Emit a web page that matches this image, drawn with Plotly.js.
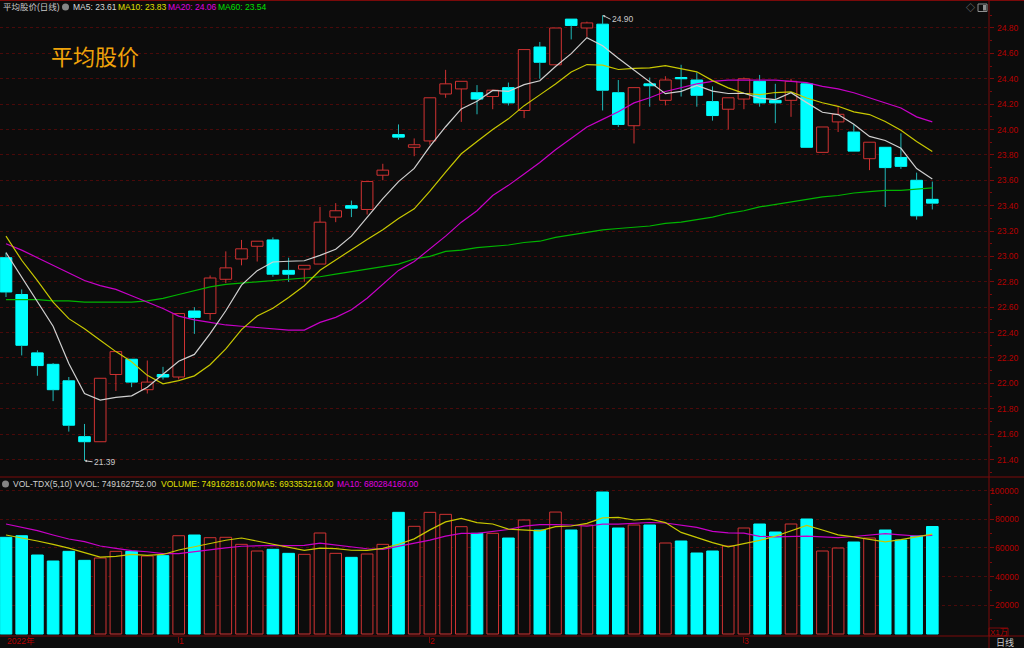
<!DOCTYPE html>
<html><head><meta charset="utf-8">
<script src="https://cdn.plot.ly/plotly-3.0.1.min.js"></script>
<style>html,body{margin:0;padding:0;background:#0c0c0c;overflow:hidden}#chart{width:1024px;height:648px}</style>
</head><body><div id="chart"></div>
<script>
// ---------- data ----------
const openP  = [22.99,22.70,22.24,22.15,22.02,21.58,21.54,22.07,22.19,21.95,
                22.07,22.05,22.57,22.55,22.82,22.98,23.08,23.13,22.89,22.90,
                22.94,23.31,23.40,23.37,23.64,23.96,23.86,23.91,24.28,24.32,
                24.29,24.26,24.33,24.15,24.65,24.51,24.87,24.80,24.83,24.29,
                24.03,24.36,24.23,24.41,24.39,24.22,24.16,24.24,24.38,24.23,
                24.23,24.36,23.82,24.06,23.98,23.77,23.86,23.78,23.60,23.45];
const highP  = [23.03,22.74,22.26,22.16,22.05,21.68,22.04,22.25,22.19,22.18,
                22.13,22.55,22.60,22.85,23.04,23.13,23.12,23.15,22.99,22.93,
                23.39,23.42,23.44,23.59,23.73,24.04,23.93,24.25,24.47,24.38,
                24.35,24.31,24.37,24.63,24.69,24.80,24.87,24.85,24.90,24.39,
                24.33,24.41,24.42,24.51,24.45,24.34,24.25,24.41,24.43,24.36,
                24.40,24.37,24.02,24.18,24.04,23.90,23.86,23.97,23.66,23.59];
const lowP   = [22.68,22.22,22.06,21.86,21.62,21.39,21.54,21.94,21.97,21.92,
                22.03,22.03,22.39,22.50,22.79,22.93,22.96,22.84,22.80,22.80,
                22.94,23.27,23.31,23.33,23.60,23.92,23.79,23.88,24.25,24.06,
                24.12,24.16,24.19,24.09,24.40,24.51,24.71,24.73,24.15,24.02,
                23.89,24.18,24.19,24.26,24.18,24.07,24.00,24.16,24.18,24.05,
                24.10,23.86,23.82,23.98,23.83,23.68,23.39,23.69,23.29,23.37];
const closeP = [22.72,22.30,22.14,21.95,21.67,21.54,22.04,22.25,22.01,22.01,
                22.05,22.55,22.52,22.83,22.91,23.06,23.12,22.86,22.86,22.93,
                23.27,23.36,23.38,23.59,23.68,23.94,23.88,24.25,24.36,24.38,
                24.24,24.31,24.21,24.63,24.53,24.80,24.82,24.84,24.31,24.04,
                24.33,24.345,24.39,24.40,24.27,24.11,24.25,24.40,24.21,24.21,
                24.38,23.86,24.02,24.12,23.83,23.90,23.70,23.71,23.32,23.42];
// volume in units of 10,000 (x1万)
const volume = [67400,68500,55060,50880,57620,51350,52970,57620,57620,54370,
                54600,68500,69000,67130,67400,62500,57850,59020,56220,55530,
                70400,56220,53430,55760,62500,84800,75050,84800,83410,74800,
                70170,70170,66900,79460,72490,85000,72490,75970,98970,73880,
                75970,75970,63430,64820,56460,57850,61340,73880,76670,71090,
                76670,80160,57850,59940,64120,66910,72490,65520,68300,74916];
// moving-average values before enough history is visible
const ma5Lead  = [23.03,22.84,22.65,22.45];
const ma10Lead = [23.16,22.97,22.81,22.64,22.51,22.43,22.34,22.25,22.17];
const ma20 = [23.10,23.05,22.99,22.93,22.87,22.81,22.77,22.74,22.69,22.64,
              22.59,22.53,22.50,22.48,22.46,22.45,22.44,22.43,22.42,22.42,
              22.48,22.52,22.58,22.67,22.78,22.89,22.96,23.06,23.16,23.27,
              23.36,23.48,23.56,23.65,23.74,23.84,23.93,24.02,24.08,24.14,
              24.21,24.25,24.30,24.33,24.36,24.38,24.39,24.39,24.39,24.39,
              24.38,24.37,24.34,24.32,24.29,24.25,24.21,24.17,24.10,24.06];
const ma60 = [22.66,22.66,22.66,22.65,22.65,22.64,22.64,22.64,22.64,22.65,
              22.67,22.70,22.73,22.76,22.78,22.79,22.80,22.81,22.82,22.83,
              22.84,22.86,22.88,22.90,22.92,22.94,22.98,23.00,23.04,23.05,
              23.07,23.08,23.09,23.11,23.12,23.15,23.17,23.19,23.21,23.22,
              23.23,23.24,23.26,23.27,23.29,23.31,23.34,23.36,23.39,23.41,
              23.43,23.45,23.47,23.48,23.50,23.51,23.52,23.52,23.53,23.54];
const volMa5Lead  = [69000,67120,64820,62520];
const volMa10Lead = [76670,74370,72000,69000,66220,64330,61340,59730,58060];
const monthTicks  = [0,11,27,47];
const monthLabels = ["2022年","1","2","3"];
const priceTicks  = [21.40,21.60,21.80,22.00,22.20,22.40,22.60,22.80,23.00,23.20,23.40,23.60,23.80,24.00,24.20,24.40,24.60,24.80];
const volTicks    = [20000,40000,60000,80000,100000];
const headerTexts = ["平均股价(日线)","MA5: 23.61","MA10: 23.83","MA20: 24.06","MA60: 23.54"];
const volHeaderTexts = ["VOL-TDX(5,10) VVOL: 749162752.00","VOLUME: 749162816.00","MA5: 693353216.00","MA10: 680284160.00"];
const highLabel = {i:38, v:24.90, text:"24.90"};
const lowLabel  = {i:5,  v:21.39, text:"21.39"};

// ---------- styling ----------
const BG='#0c0c0c', RED='#d03232', CYAN='#00ffff', CYANW='#20b8b8';
const AXR='#7a0a0a', GRID='#4a0a0a', LBL='#b40000';
const C_MA5='#d0d0d0', C_MA10='#c8c800', C_MA20='#c800c8', C_MA60='#00b400';
const FONT="Liberation Sans, Arial, Noto Sans CJK SC, sans-serif";
const PW=989, H=648;
const px=x=>x/PW, py=y=>1-y/H;

const idx = closeP.map((_,i)=>i);
const isUp = closeP.map((c,i)=>c>=openP[i]);
function sma(arr,n,lead){return arr.map((v,i)=>{if(i<n-1)return lead[i];let s=0;for(let k=i-n+1;k<=i;k++)s+=arr[k];return s/n;});}
const ma5=sma(closeP,5,ma5Lead), ma10=sma(closeP,10,ma10Lead);
const vma5=sma(volume,5,volMa5Lead), vma10=sma(volume,10,volMa10Lead);

const upX=idx.filter(i=>isUp[i]), dnX=idx.filter(i=>!isUp[i]);
const bodyLo=i=>Math.min(openP[i],closeP[i]);
const bodyHi=i=>Math.max(openP[i],closeP[i]);
const bodyLen=i=>Math.max(bodyHi(i)-bodyLo(i),0.008);
function wicks(xs){const x=[],y=[];xs.forEach(i=>{
  if(lowP[i]<bodyLo(i)){x.push(i,i,null);y.push(lowP[i],bodyLo(i),null);}
  if(highP[i]>bodyHi(i)){x.push(i,i,null);y.push(bodyHi(i),highP[i],null);}
});return {x,y};}
const wu=wicks(upX), wd=wicks(dnX);
const BW=0.74;

const traces=[
 {type:'scatter',mode:'lines',x:wu.x,y:wu.y,line:{color:RED,width:1},hoverinfo:'skip',xaxis:'x',yaxis:'y'},
 {type:'scatter',mode:'lines',x:wd.x,y:wd.y,line:{color:CYANW,width:1},hoverinfo:'skip',xaxis:'x',yaxis:'y'},
 {type:'bar',x:upX,y:upX.map(bodyLen),base:upX.map(bodyLo),width:BW,marker:{color:BG,line:{color:RED,width:1}},xaxis:'x',yaxis:'y'},
 {type:'bar',x:dnX,y:dnX.map(bodyLen),base:dnX.map(bodyLo),width:BW,marker:{color:CYAN,line:{color:CYAN,width:1}},xaxis:'x',yaxis:'y'},
 {type:'scatter',mode:'lines',x:idx,y:ma60,line:{color:C_MA60,width:1.2},xaxis:'x',yaxis:'y'},
 {type:'scatter',mode:'lines',x:idx,y:ma20,line:{color:C_MA20,width:1.2},xaxis:'x',yaxis:'y'},
 {type:'scatter',mode:'lines',x:idx,y:ma10,line:{color:C_MA10,width:1.2},xaxis:'x',yaxis:'y'},
 {type:'scatter',mode:'lines',x:idx,y:ma5,line:{color:C_MA5,width:1.2},xaxis:'x',yaxis:'y'},
 {type:'bar',x:upX,y:upX.map(i=>volume[i]),base:0,width:BW,marker:{color:BG,line:{color:RED,width:1}},xaxis:'x',yaxis:'y2'},
 {type:'bar',x:dnX,y:dnX.map(i=>volume[i]),base:0,width:BW,marker:{color:CYAN,line:{color:CYAN,width:1}},xaxis:'x',yaxis:'y2'},
 {type:'scatter',mode:'lines',x:idx,y:vma10,line:{color:C_MA20,width:1.2},xaxis:'x',yaxis:'y2'},
 {type:'scatter',mode:'lines',x:idx,y:vma5,line:{color:C_MA10,width:1.2},xaxis:'x',yaxis:'y2'}
];

const f=(size,color)=>({family:FONT,size:size,color:color});
const ann=[];
// header
const hx=[2,72,117,167,217], hc=['#c8c8c8','#d8d8d8','#e0e000','#e000e0','#00e000'];
headerTexts.forEach((t,k)=>ann.push({xref:'paper',yref:'paper',x:px(hx[k]),y:py(7),xanchor:'left',yanchor:'middle',text:t,showarrow:false,font:f(8.5,hc[k]),borderpad:0}));
const vx=[12,160,256,336], vc=['#d0d0d0','#e0e000','#e0e000','#e000e0'];
volHeaderTexts.forEach((t,k)=>ann.push({xref:'paper',yref:'paper',x:px(vx[k]),y:py(484),xanchor:'left',yanchor:'middle',text:t,showarrow:false,font:f(8.5,vc[k]),borderpad:0}));
// big title
ann.push({xref:'paper',yref:'paper',x:px(49),y:py(55),xanchor:'left',yanchor:'middle',text:'平均股价',showarrow:false,font:{family:'Noto Sans CJK SC',size:22,color:'#f0a30a'}});
// price tick labels (right aligned)
priceTicks.forEach(v=>ann.push({xref:'paper',yref:'y',x:px(1020),y:v,xanchor:'right',yanchor:'middle',text:v.toFixed(2),showarrow:false,font:f(8.5,LBL),borderpad:0}));
volTicks.forEach(v=>ann.push({xref:'paper',yref:'y2',x:px(1020),y:v,xanchor:'right',yanchor:'middle',text:String(v),showarrow:false,font:f(8.5,LBL),borderpad:0}));
// month labels
monthTicks.forEach((t,k)=>ann.push({xref:'x',yref:'paper',x:k===0?-0.0:t,y:py(641),xanchor:k===0?'left':'left',yanchor:'middle',text:monthLabels[k],showarrow:false,font:f(8.5,LBL),borderpad:0,xshift:k===0?0:-1}));
// high / low markers
[highLabel,lowLabel].forEach((m,k)=>ann.push({xref:'x',yref:'y',x:m.i,y:m.v,text:m.text,showarrow:true,arrowhead:2,arrowsize:0.5,arrowwidth:1,arrowcolor:'#c8c8c8',ax:k===0?8:8,ay:k===0?4:1,xanchor:'left',yanchor:'middle',standoff:0,font:f(8.5,'#c8c8c8'),borderpad:0}));
// misc labels
ann.push({xref:'paper',yref:'paper',x:px(998.5),y:py(632),xanchor:'center',yanchor:'middle',text:'X1万',showarrow:false,font:f(8,LBL),borderpad:0});
ann.push({xref:'paper',yref:'paper',x:px(1005),y:py(642),xanchor:'center',yanchor:'middle',text:'日线',showarrow:false,font:f(9,'#c8c8c8'),borderpad:0});
ann.push({xref:'paper',yref:'paper',x:px(970),y:py(8),xanchor:'center',yanchor:'middle',text:'◇',showarrow:false,font:f(9,'#909090'),borderpad:0});

const ln=(x0,y0,x1,y1,c,w)=>({type:'line',xref:'paper',yref:'paper',x0:px(x0),y0:py(y0),x1:px(x1),y1:py(y1),line:{color:c,width:w||1},layer:'above'});
const shapes=[
 ln(0,0.5,1024,0.5,AXR), ln(0,477,1024,477,AXR), ln(0,636,1024,636,AXR), ln(989,0,989,648,AXR),
 {type:'rect',xref:'paper',yref:'paper',x0:px(989),x1:px(1008),y0:py(636),y1:py(628),line:{color:AXR,width:1}},
 {type:'circle',xref:'paper',yref:'paper',x0:px(62),x1:px(69),y0:py(10.5),y1:py(3.5),fillcolor:'#858585',line:{width:0}},
 {type:'circle',xref:'paper',yref:'paper',x0:px(2),x1:px(9),y0:py(487.5),y1:py(480.5),fillcolor:'#858585',line:{width:0}},
 {type:'rect',xref:'paper',yref:'paper',x0:px(978),x1:px(987),y0:py(11.5),y1:py(4),line:{color:'#909090',width:1},fillcolor:'rgba(0,0,0,0)'},
 {type:'rect',xref:'paper',yref:'paper',x0:px(983),x1:px(986),y0:py(10.5),y1:py(5),line:{width:0},fillcolor:'#909090'}
];

const layout={
 width:1024,height:648,paper_bgcolor:BG,plot_bgcolor:BG,showlegend:false,
 margin:{l:0,r:35,t:0,b:0},barmode:'overlay',hovermode:false,
 font:{family:FONT,size:9,color:LBL},
 xaxis:{domain:[0,1],range:[-0.382,62.61],anchor:'y2',showgrid:false,zeroline:false,showline:false,
        showticklabels:false,ticks:'outside',tickmode:'array',tickvals:monthTicks.slice(1),ticklen:6,tickcolor:AXR,fixedrange:true},
 yaxis:{domain:[1-476/648,1-12/648],range:[21.270,24.926],side:'right',anchor:'x',showline:false,zeroline:false,
        tickmode:'linear',tick0:21.4,dtick:0.2,ticks:'outside',ticklen:4,tickcolor:AXR,showticklabels:false,
        showgrid:true,gridcolor:GRID,griddash:'dot',gridwidth:1,
        minor:{tickmode:'linear',tick0:21.3,dtick:0.2,ticks:'outside',ticklen:2,tickcolor:AXR,showgrid:false}},
 yaxis2:{domain:[1-636/648,1-478/648],range:[-1394,108732],side:'right',anchor:'x',showline:false,zeroline:false,
        tickmode:'array',tickvals:volTicks,ticks:'outside',ticklen:4,tickcolor:AXR,showticklabels:false,
        showgrid:true,gridcolor:GRID,griddash:'dot',gridwidth:1,
        minor:{tickmode:'linear',tick0:10000,dtick:20000,ticks:'outside',ticklen:2,tickcolor:AXR,showgrid:false}},
 annotations:ann,shapes:shapes
};
Plotly.newPlot('chart',traces,layout,{staticPlot:true,displayModeBar:false});
</script></body></html>
